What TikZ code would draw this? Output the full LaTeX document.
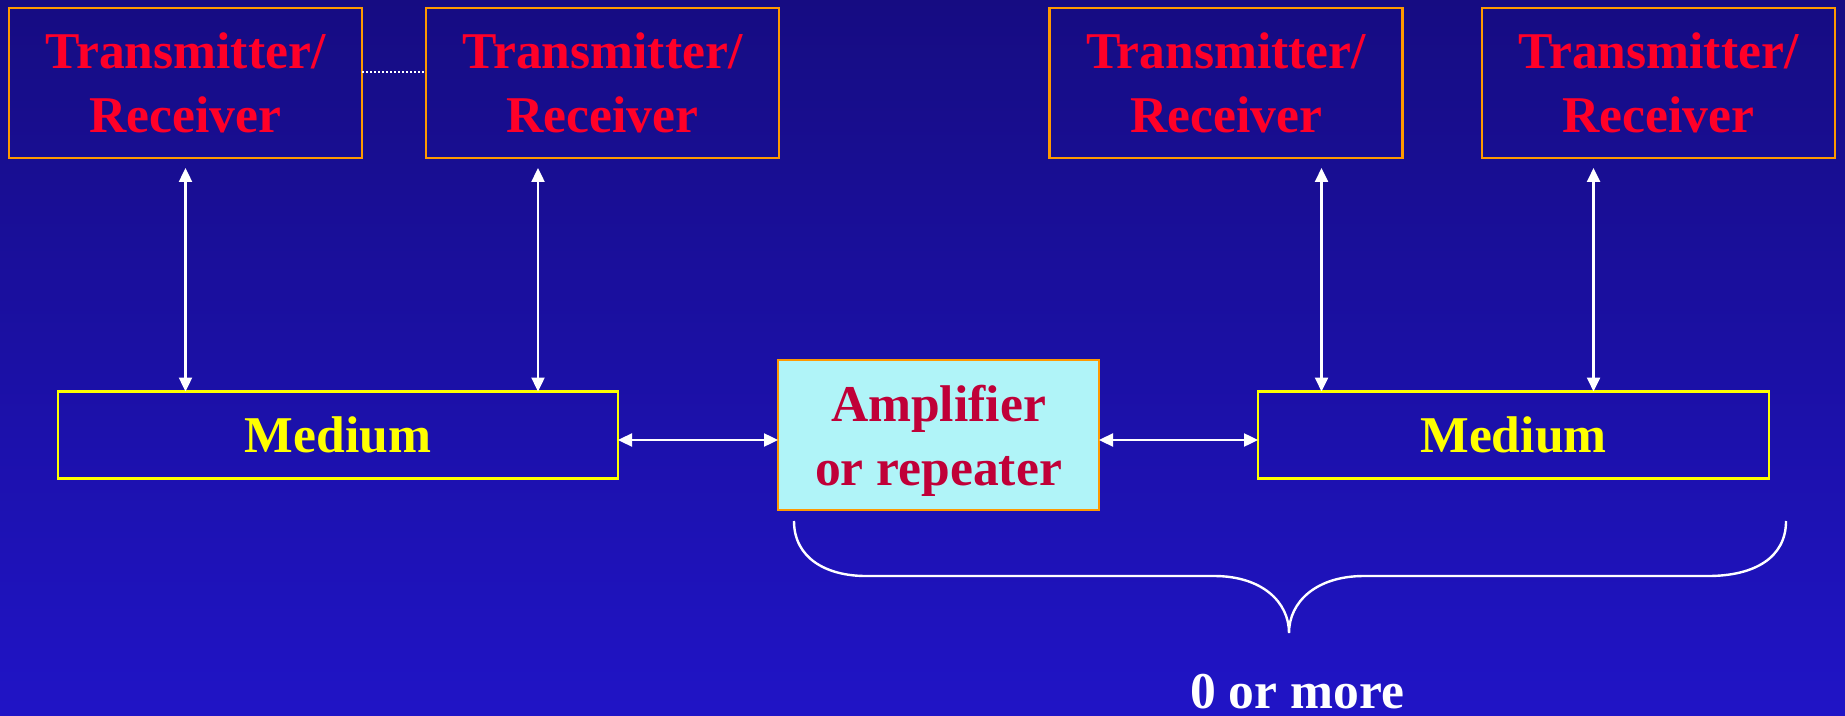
\documentclass[tikz,border=0pt]{standalone}
\usepackage{fontspec}
\setmainfont{Liberation Serif}
\usetikzlibrary{arrows.meta,positioning}

\definecolor{bgtop}{RGB}{22,12,130}
\definecolor{bgbot}{RGB}{32,20,198}
\definecolor{trred}{RGB}{255,0,40}
\definecolor{ampred}{RGB}{192,0,56}
\definecolor{ampfill}{RGB}{176,244,248}
\definecolor{boxorange}{RGB}{255,153,0}
\definecolor{medyellow}{RGB}{255,255,0}

\begin{document}
\begin{tikzpicture}[
  x=0.5pt, y=-0.5pt,
  every node/.style={font=\bfseries\fontsize{25.8pt}{32pt}\selectfont, align=center,
    inner sep=0pt, outer sep=0pt},
  trbox/.style={draw=boxorange, line width=1.4pt, text=trred,
    minimum width=176.5pt, minimum height=75pt},
  medbox/.style={draw=medyellow, line width=1.3pt, text=medyellow,
    minimum height=43.5pt},
  ampbox/.style={draw=boxorange, fill=ampfill, line width=1.4pt, text=ampred,
    minimum width=160.5pt, minimum height=75pt, text depth=-1.5pt},
  link/.style={white, line width=1.2pt, {Triangle[length=7pt,width=6.5pt]}-{Triangle[length=7pt,width=6.5pt]}}
]
  % --- Hintergrund ---
  \shade[top color=bgtop, bottom color=bgbot] (0,0) rectangle (1845,716);
  \useasboundingbox (0,0) rectangle (1845,716);

  % --- Sender/Empfaenger ---
  \node (tr1) [trbox] at (185.5,83) {Transmitter/\\Receiver};
  \node (tr2) [trbox, right=32pt of tr1] {Transmitter/\\Receiver};
  \node (tr3) [trbox] at (1226,83) {Transmitter/\\Receiver};
  \node (tr4) [trbox, right=39.75pt of tr3] {Transmitter/\\Receiver};

  \draw[white, line width=1.2pt, dash pattern=on 1pt off 1pt]
    ([yshift=5.5pt]tr1.east) -- ([yshift=5.5pt]tr2.west);

  % --- Medium und Verstaerker ---
  \node (amp) [ampbox] at (938.5,435) {Amplifier\\or repeater};
  \node (med1) [medbox, minimum width=280pt, left=80pt of amp] {Medium};
  \node (med2) [medbox, minimum width=255.5pt, right=79.5pt of amp] {Medium};

  \draw[link] ([yshift=-2.5pt]med1.east) -- ([yshift=-2.5pt]amp.west);
  \draw[link] ([yshift=-2.5pt]amp.east) -- ([yshift=-2.5pt]med2.west);

  \draw[link] ([yshift=-5pt]tr1.south) -- (tr1.south |- med1.north);
  \draw[link] ([xshift=-32.25pt,yshift=-5pt]tr2.south) -- ([xshift=-32.25pt]tr2.south |- med1.north);
  \draw[link] ([xshift=47.75pt,yshift=-5pt]tr3.south) -- ([xshift=47.75pt]tr3.south |- med2.north);
  \draw[link] ([xshift=-32.5pt,yshift=-5pt]tr4.south) -- ([xshift=-32.5pt]tr4.south |- med2.north);

  % --- Klammer ---
  \draw[white, line width=1.2pt]
    (794,521) .. controls (794,558) and (826,576) .. (866,576) -- (1214,576)
    .. controls (1262,576) and (1289,602) .. (1289,633)
    .. controls (1289,602) and (1316,576) .. (1364,576) -- (1708,576)
    .. controls (1754,576) and (1786,558) .. (1786,521);
  \node (more) [white, anchor=base] at (1297,708) {0 or more};
\end{tikzpicture}
\end{document}
